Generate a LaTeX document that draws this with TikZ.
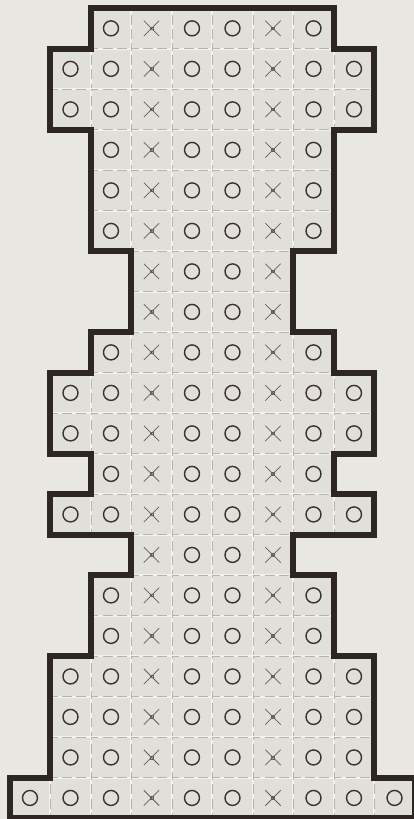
\documentclass[tikz,border=0pt]{standalone}
\usepackage{tikz}
\usetikzlibrary{
	shapes.misc,
	backgrounds
}
\definecolor{papier}{HTML}{E8E7E2}
\definecolor{fondcase}{HTML}{E0DFD9}
\definecolor{trame}{HTML}{F3F2EE}
\definecolor{filet}{HTML}{B5B3AD}
\definecolor{encre}{HTML}{3F322D}
\definecolor{encrex}{HTML}{6A5D58}
\definecolor{bord}{HTML}{2E2622}

\begin{document}
\begin{tikzpicture}[
			case/.style={rectangle, minimum size=1cm, inner sep=0pt, fill=fondcase, draw=trame, line width=1.4pt,
				postaction={draw=filet, line width=0.3pt, dash pattern=on 7pt off 3pt}},
			rond/.style={circle, draw=encre, line width=1pt, minimum size=0.37cm, inner sep=0pt},
			croix/.style={cross out, draw=encrex, line width=0.55pt, minimum size=0.36cm, inner sep=0pt},
			centre/.style={rectangle, draw=encrex, line width=0.5pt, minimum size=0.07cm, inner sep=0pt},
			contour/.style={draw=bord, line width=4.2pt, line join=miter}
		]

		% papier
		\fill[papier] (-0.24,0.2) rectangle (9.98,-20.02);
		\useasboundingbox (-0.24,0.2) rectangle (9.98,-20.02);

		% rangees : numero / premiere case / derniere case
		\foreach \r/\a/\b in {1/3/8, 2/2/9, 3/2/9, 4/3/8, 5/3/8, 6/3/8, 7/4/7, 8/4/7,
				9/3/8, 10/2/9, 11/2/9, 12/3/8, 13/2/9, 14/4/7, 15/3/8, 16/3/8,
				17/2/9, 18/2/9, 19/2/9, 20/1/10}{
			\foreach \c in {\a,...,\b}{
				\node[case] (k-\r-\c) at (\c-0.5,-\r+0.5) {};
				\pgfmathtruncatemacro\estx{(\c==4)||(\c==7)}
				\ifnum\estx=1
					\node[croix] (x-\r-\c) at (k-\r-\c) {};
					\node[centre] at (k-\r-\c) {};
				\else
					\node[rond] (o-\r-\c) at (k-\r-\c) {};
				\fi
			}
		}

		% trait epais du contour
		\draw[contour] (2,0) -- (8,0) -- (8,-1) -- (9,-1) -- (9,-3) -- (8,-3) -- (8,-6)
			-- (7,-6) -- (7,-8) -- (8,-8) -- (8,-9) -- (9,-9) -- (9,-11) -- (8,-11)
			-- (8,-12) -- (9,-12) -- (9,-13) -- (7,-13) -- (7,-14) -- (8,-14) -- (8,-16)
			-- (9,-16) -- (9,-19) -- (10,-19) -- (10,-20) -- (0,-20) -- (0,-19) -- (1,-19)
			-- (1,-16) -- (2,-16) -- (2,-14) -- (3,-14) -- (3,-13) -- (1,-13) -- (1,-12)
			-- (2,-12) -- (2,-11) -- (1,-11) -- (1,-9) -- (2,-9) -- (2,-8) -- (3,-8)
			-- (3,-6) -- (2,-6) -- (2,-3) -- (1,-3) -- (1,-1) -- (2,-1) -- cycle;
	\end{tikzpicture}
\end{document}
